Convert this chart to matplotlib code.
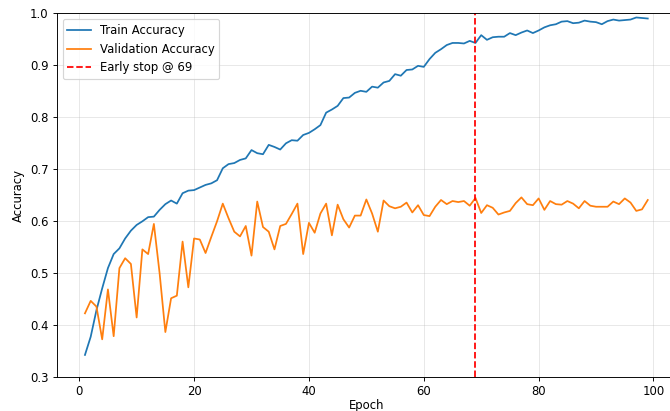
import numpy as np
import matplotlib.pyplot as plt

train_acc = [0.343, 0.378, 0.429, 0.471, 0.510, 0.537, 0.548, 0.567, 0.582, 0.593,
             0.600, 0.608, 0.609, 0.622, 0.633, 0.640, 0.634, 0.654, 0.659, 0.660,
             0.665, 0.670, 0.673, 0.679, 0.702, 0.710, 0.712, 0.718, 0.721, 0.737,
             0.731, 0.729, 0.747, 0.743, 0.738, 0.750, 0.756, 0.755, 0.766, 0.770,
             0.777, 0.785, 0.809, 0.815, 0.822, 0.837, 0.838, 0.847, 0.851, 0.849,
             0.859, 0.857, 0.867, 0.870, 0.883, 0.880, 0.891, 0.892, 0.899, 0.897,
             0.912, 0.924, 0.931, 0.939, 0.943, 0.943, 0.942, 0.947, 0.943, 0.958,
             0.949, 0.954, 0.955, 0.955, 0.962, 0.958, 0.963, 0.967, 0.962, 0.967,
             0.973, 0.977, 0.979, 0.984, 0.985, 0.981, 0.982, 0.986, 0.984, 0.983,
             0.979, 0.985, 0.988, 0.986, 0.987, 0.988, 0.992, 0.991, 0.990]

val_acc = [0.423, 0.447, 0.436, 0.373, 0.469, 0.379, 0.510, 0.529, 0.518, 0.415,
           0.546, 0.537, 0.595, 0.500, 0.387, 0.452, 0.457, 0.561, 0.473, 0.567,
           0.565, 0.539, 0.570, 0.600, 0.634, 0.606, 0.580, 0.571, 0.591, 0.534,
           0.638, 0.589, 0.580, 0.546, 0.591, 0.595, 0.614, 0.634, 0.537, 0.597,
           0.578, 0.615, 0.634, 0.573, 0.632, 0.604, 0.588, 0.611, 0.611, 0.642,
           0.615, 0.580, 0.640, 0.629, 0.625, 0.628, 0.636, 0.617, 0.631, 0.612,
           0.610, 0.628, 0.641, 0.633, 0.639, 0.637, 0.639, 0.630, 0.645, 0.616,
           0.631, 0.626, 0.613, 0.617, 0.620, 0.635, 0.646, 0.633, 0.631, 0.644,
           0.622, 0.639, 0.633, 0.632, 0.639, 0.634, 0.625, 0.639, 0.630, 0.628,
           0.628, 0.628, 0.638, 0.633, 0.644, 0.636, 0.620, 0.623, 0.641]

epochs = np.arange(1, len(train_acc) + 1)
early_stop = 69

fig = plt.figure(figsize=(670 / 84, 411 / 84), dpi=84)
ax = fig.add_axes([0.0848, 0.082, 0.924, 0.8856])

ax.plot(epochs, train_acc, label='Train Accuracy')
ax.plot(epochs, val_acc, label='Validation Accuracy')
ax.axvline(early_stop, color='red', linestyle='--', label=f'Early stop @ {early_stop}')

ax.set_ylim(0.3, 1.0)
ax.set_xlabel('Epoch', labelpad=0.5)  # kept just inside the bottom edge
ax.set_ylabel('Accuracy')
ax.legend(loc='upper left')
ax.grid(True, alpha=0.3)

fig.savefig('out.png', dpi=84)
